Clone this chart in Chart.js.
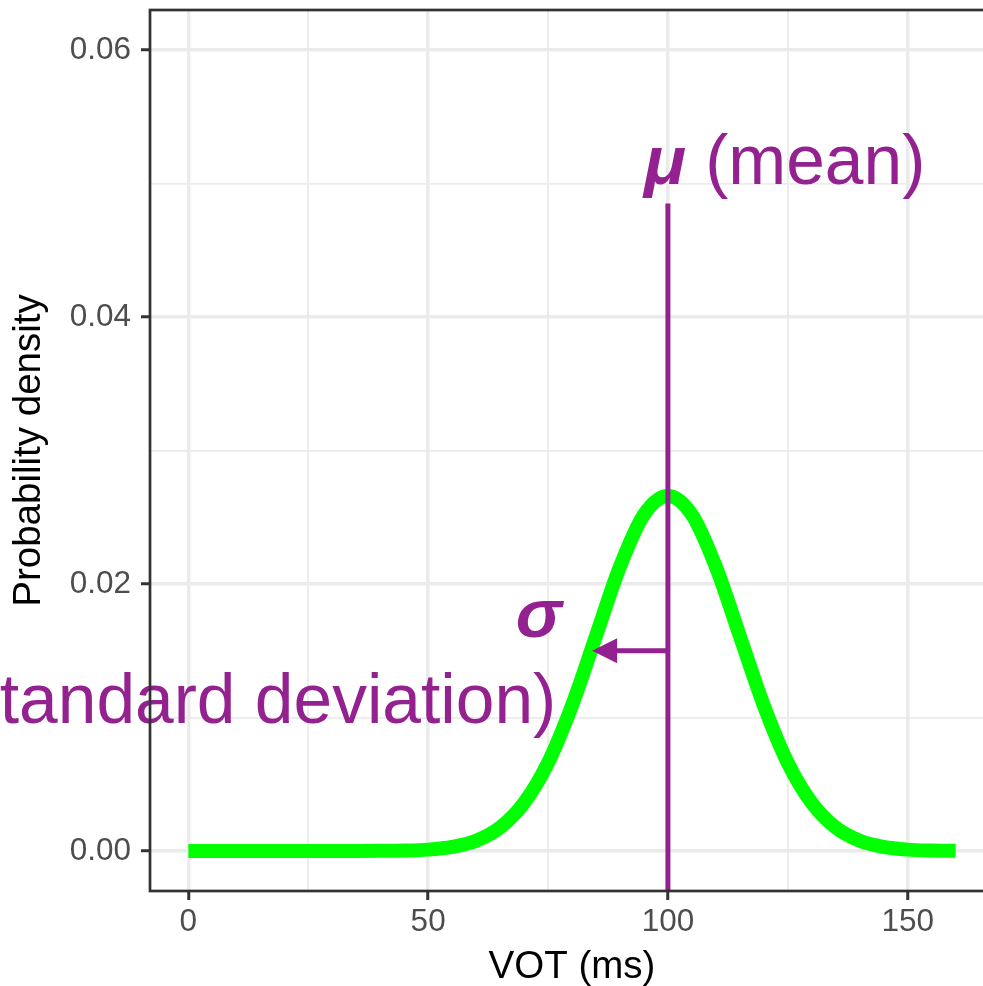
<!DOCTYPE html>
<html><head><meta charset="utf-8">
<script src="https://cdn.jsdelivr.net/npm/chart.js@4.4.0/dist/chart.umd.min.js"></script>
<style>
html,body{margin:0;padding:0;overflow:hidden;background:#fff;width:983px;height:986px}
#wrap{width:1000px;height:986px;position:relative}
</style>
</head><body><div id="wrap"><canvas id="c" width="1000" height="986"></canvas></div>
<script>
// ---- data ----
const votMs = [0,5,10,15,20,25,30,35,40,45,50,55,60,65,70,75,80,85,90,95,100,105,110,115,120,125,130,135,140,145,150,155,160];
const density = [0,0,0,0,0,0,0,0,0.00001,0.00003,0.0001,0.0003,0.00076,0.00175,0.0036,0.0066,0.0109,0.0161,0.0213,0.0252,0.0266,0.0252,0.0213,0.0161,0.0109,0.0066,0.0036,0.00175,0.00076,0.0003,0.0001,0.00003,0.00001];
const xTicks = [0,25,50,75,100,125,150];
const xMajor = [0,50,100,150];
const yTicks = [0,0.01,0.02,0.03,0.04,0.05,0.06];
const yMajor = [0,0.02,0.04,0.06];
const meanVot = 100;
const meanLineTop = 0.0485;
const meanLabelX = 95;
const meanLabelY = 0.05;
const sdArrowEnd = 84.2;
const sdArrowY = 0.015;
const sigmaLabelX = 77.9;
const sigmaLabelY = 0.016;
const sdLabelX = 76.7;
const sdLabelY = 0.0096;

const purple = '#93218F';
const FONT = '"Liberation Sans", Arial, Helvetica, sans-serif';
const near = (v, arr) => arr.some(a => Math.abs(a - v) < 1e-9);

const annot = {
  id: 'annot',
  afterDatasetsDraw(chart) {
    const {ctx, scales: {x, y}} = chart;
    ctx.save();
    const px = x.getPixelForValue(meanVot);
    ctx.strokeStyle = purple; ctx.fillStyle = purple;
    ctx.lineWidth = 5; ctx.lineCap = 'butt';
    ctx.beginPath();
    ctx.moveTo(px, y.bottom);
    ctx.lineTo(px, y.getPixelForValue(meanLineTop));
    ctx.stroke();
    const ay = y.getPixelForValue(sdArrowY);
    const tip = x.getPixelForValue(sdArrowEnd);
    ctx.beginPath();
    ctx.moveTo(px, ay); ctx.lineTo(tip + 20, ay); ctx.stroke();
    ctx.beginPath();
    ctx.moveTo(tip, ay); ctx.lineTo(tip + 25, ay - 12.5); ctx.lineTo(tip + 25, ay + 12.5);
    ctx.closePath(); ctx.fill();
    // texts
    ctx.textBaseline = 'alphabetic';
    ctx.textAlign = 'left';
    let tx = x.getPixelForValue(meanLabelX), ty = y.getPixelForValue(meanLabelY);
    ctx.font = 'italic bold 69.5px ' + FONT;
    ctx.fillText('μ', tx, ty);
    const w = ctx.measureText('μ').width;
    ctx.font = '69.5px ' + FONT;
    ctx.fillText(' (mean)', tx + w, ty);
    ctx.textAlign = 'right';
    ctx.font = 'italic bold 69.5px ' + FONT;
    ctx.fillText('σ', x.getPixelForValue(sigmaLabelX), y.getPixelForValue(sigmaLabelY));
    ctx.font = '69.5px ' + FONT;
    ctx.fillText('(standard deviation)', x.getPixelForValue(sdLabelX), y.getPixelForValue(sdLabelY));
    ctx.restore();
  },
  afterDraw(chart) {
    const {ctx, chartArea: a} = chart;
    ctx.save();
    ctx.strokeStyle = '#333333';
    ctx.lineWidth = 2.7;
    ctx.strokeRect(a.left, a.top, a.right - a.left, a.bottom - a.top);
    ctx.restore();
  }
};

new Chart(document.getElementById('c'), {
  type: 'line',
  data: {
    datasets: [{
      data: votMs.map((v, i) => ({x: v, y: density[i]})),
      borderColor: '#00FF00',
      borderWidth: 14,
      pointRadius: 0,
      borderCapStyle: 'butt',
      borderJoinStyle: 'round',
      cubicInterpolationMode: 'monotone',
      fill: false
    }]
  },
  options: {
    responsive: false,
    animation: false,
    events: [],
    layout: {padding: {left: 0, top: 10, right: 6, bottom: 0}},
    plugins: {legend: {display: false}, tooltip: {enabled: false}},
    scales: {
      x: {
        type: 'linear', min: -8, max: 168,
        afterBuildTicks: s => { s.ticks = xTicks.map(v => ({value: v})); },
        afterFit: s => { s.height = 95; s.paddingLeft = 0; s.paddingRight = 0; },
        ticks: {
          autoSkip: false, maxRotation: 0, padding: 3,
          color: '#4D4D4D', font: {family: FONT, size: 31.5},
          callback: v => near(v, xMajor) ? String(v) : ''
        },
        grid: {
          color: '#EBEBEB',
          lineWidth: c => (c.tick && near(c.tick.value, xMajor)) ? 3.5 : 1.8,
          tickColor: c => (c.tick && near(c.tick.value, xMajor)) ? '#333333' : 'rgba(0,0,0,0)',
          tickWidth: 3, tickLength: 9, drawTicks: true
        },
        border: {display: false},
        title: {display: true, text: 'VOT (ms)', color: '#000', font: {family: FONT, size: 38.5}, padding: {top: 0, bottom: -4}}
      },
      y: {
        type: 'linear', min: -0.003, max: 0.063,
        afterBuildTicks: s => { s.ticks = yTicks.map(v => ({value: v})); },
        afterFit: s => { s.width = 150; s.paddingTop = 0; s.paddingBottom = 0; },
        ticks: {
          autoSkip: false, padding: 10,
          color: '#4D4D4D', font: {family: FONT, size: 31.5},
          callback: v => near(v, yMajor) ? v.toFixed(2) : ''
        },
        grid: {
          color: '#EBEBEB',
          lineWidth: c => (c.tick && near(c.tick.value, yMajor)) ? 3.5 : 1.8,
          tickColor: c => (c.tick && near(c.tick.value, yMajor)) ? '#333333' : 'rgba(0,0,0,0)',
          tickWidth: 3, tickLength: 9, drawTicks: true
        },
        border: {display: false},
        title: {display: true, text: 'Probability density', color: '#000', font: {family: FONT, size: 38.5}, padding: {top: 6, bottom: 0}}
      }
    }
  },
  plugins: [annot]
});
</script>
</body></html>
